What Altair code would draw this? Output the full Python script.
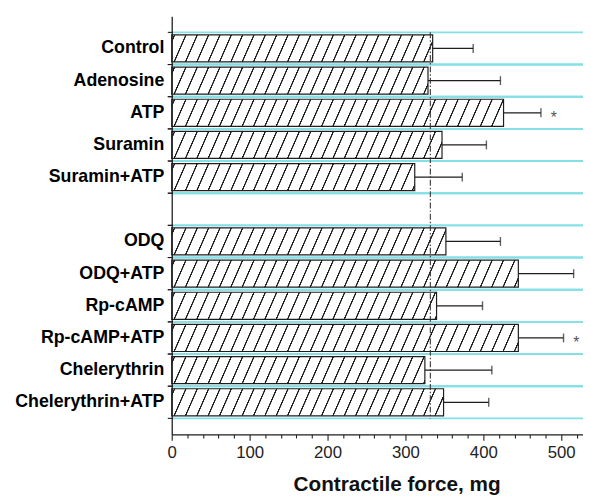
import altair as alt
import pandas as pd

# ---- data ----
categories = ["Control", "Adenosine", "ATP", "Suramin", "Suramin+ATP",
              "ODQ", "ODQ+ATP", "Rp-cAMP", "Rp-cAMP+ATP", "Chelerythrin",
              "Chelerythrin+ATP"]
force = [335, 329, 426, 347, 312, 352, 445, 340, 445, 325, 349]
sd = [52, 93, 48, 57, 61, 70, 71, 59, 58, 86, 58]
significant = [False, False, True, False, False, False, True, False, True, False, False]
control_level = 332
x_ticks = list(range(0, 521, 20))
x_max = 528
gap_label = " "

y_domain = categories[:5] + [gap_label] + categories[5:]

# ---- styling ----
PLOT_W, PLOT_H = 417, 424
INK = "#1e1e1e"
CYAN = "#84dfe6"
FONT = "Liberation Sans"
SPACING = 11.5   # hatch spacing (px)
RUN = 12.0       # horizontal shift of a hatch line over the bar height (px)

bars = pd.DataFrame({"cat": categories, "force": force, "sd": sd, "sig": significant})
bars["hi"] = bars["force"] + bars["sd"]
bounds = pd.DataFrame({"cat": y_domain})
ref = pd.DataFrame({"level": [control_level], "cat": [categories[0]],
                    "cat_end": [categories[-1]]})


def hatch(value):
    w = value * PLOT_W / x_max
    L = w + RUN
    stops = [{"offset": 0, "color": "white"}]
    p = 2.0
    last = 0.0
    while p < L:
        for off, col in ((p, "white"), (p + 0.4, INK), (p + 1.4, INK), (p + 1.9, "white")):
            o = round(off / L, 5)
            if last <= o < 1:
                stops.append({"offset": o, "color": col})
                last = o
        p += SPACING
    stops.append({"offset": 1, "color": "white"})
    q = RUN / w
    c = (1 + q) / (1 + q * q)
    return {"gradient": "linear", "x1": 0, "y1": 0, "x2": c, "y2": c * q, "stops": stops}


yscale = alt.Scale(type="band", domain=y_domain, paddingInner=0, paddingOuter=0.5)
yaxis = alt.Axis(title=None, ticks=False, labelFont=FONT, labelFontSize=18,
                 labelFontWeight="bold", labelColor="#000", labelPadding=8,
                 domainColor=INK, domainWidth=1.3, zindex=1, labelOverlap=False)
xscale = alt.Scale(domain=[0, x_max], nice=False, zero=True)
xaxis = alt.Axis(values=x_ticks, grid=False,
                 labelExpr="datum.value % 100 === 0 ? datum.label : ''",
                 labelOverlap=False, labelFlush=False,
                 tickSize={"condition": {"test": "datum.value % 100 === 0", "value": 6}, "value": 3.5},
                 tickColor=INK, tickWidth=1.1, domainColor=INK, domainWidth=1.3,
                 labelFont=FONT, labelFontSize=17, labelColor="#222", labelPadding=4,
                 titleFont=FONT, titleFontSize=21, titleFontWeight="bold", titleColor="#111",
                 titleX=228, titleY=57, titleBaseline="alphabetic", titleAlign="center",
                 zindex=1)


def Y(field="cat", **kw):
    return alt.Y(f"{field}:N", scale=yscale, axis=yaxis, **kw)


def X(field, **kw):
    return alt.X(f"{field}:Q", scale=xscale, axis=xaxis, title="Contractile force, mg", **kw)


layers = []
# cyan separator lines
for bp in (0, 1):
    layers.append(alt.Chart(bounds).mark_rule(color=CYAN, strokeWidth=2)
                  .encode(y=Y(bandPosition=bp)))
# hatched bars
for name, v in zip(categories, force):
    layers.append(alt.Chart(bars).transform_filter(alt.datum.cat == name)
                  .mark_bar(height={"band": 0.84}, fill=hatch(v), stroke=INK, strokeWidth=1.2)
                  .encode(x=X("force"), y=Y()))
# control reference line
layers.append(alt.Chart(ref).mark_rule(color="#333", strokeWidth=1.1, strokeDash=[6, 2, 1.5, 2])
              .encode(x=X("level"), y=Y(bandPosition=0),
                      y2=alt.Y2("cat_end:N", bandPosition=1)))
# error bars
layers.append(alt.Chart(bars).mark_rule(color=INK, strokeWidth=1.3)
              .encode(x=X("force"), x2="hi:Q", y=Y()))
layers.append(alt.Chart(bars).mark_tick(orient="vertical", size=9, thickness=1.4, color=INK)
              .encode(x=X("hi"), y=Y()))
# significance stars
layers.append(alt.Chart(bars).transform_filter("datum.sig")
              .mark_text(text="*", dx=13, dy=5, fontSize=16, color="#555", font=FONT)
              .encode(x=X("hi"), y=Y()))
# y-axis ticks at category boundaries
for bp in (0, 1):
    layers.append(alt.Chart(bounds).mark_rule(color=INK, strokeWidth=1.1)
                  .encode(x=alt.value(-4), x2=alt.value(1), y=Y(bandPosition=bp)))

chart = (alt.layer(*layers)
         .properties(width=PLOT_W, height=PLOT_H,
                     autosize=alt.AutoSizeParams(type="none"),
                     padding={"left": 166, "top": 5, "right": 0, "bottom": 59},
                     background="white")
         .configure_view(stroke=None))

chart.save("out.html", embed_options={"renderer": "svg", "actions": False})
